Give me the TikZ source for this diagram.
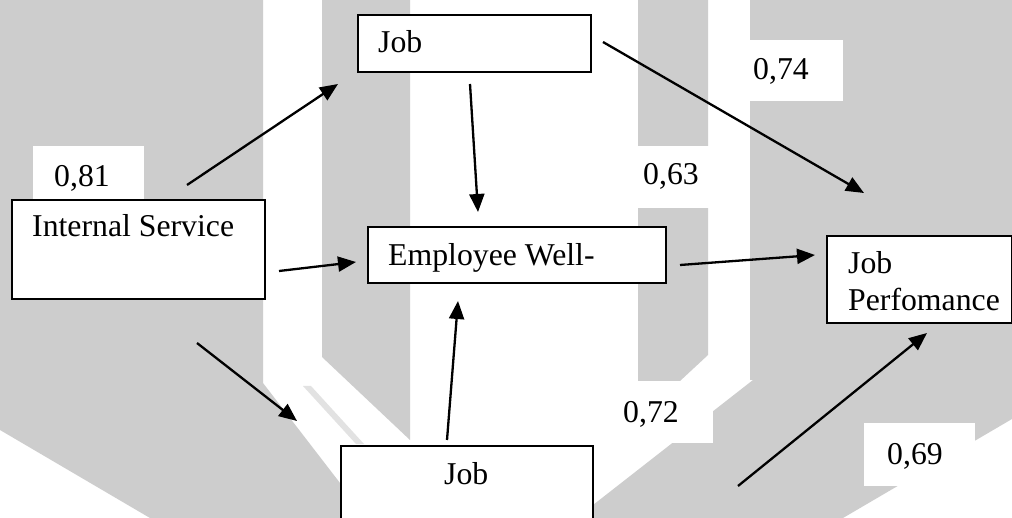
\documentclass[tikz,border=0pt]{standalone}
\usepackage{fontspec}
\setmainfont{Liberation Serif}
\usetikzlibrary{arrows.meta}
\definecolor{wm}{RGB}{205,205,205}
\definecolor{wmlight}{RGB}{226,226,226}
\begin{document}
\begin{tikzpicture}[x=1pt,y=-1pt,
  box/.style={draw=black, line width=1.8pt, fill=white, inner sep=0pt, anchor=north west},
  txt/.style={inner sep=0pt, anchor=base west, font=\fontsize{31.75}{37}\selectfont},
  arr/.style={line width=2.3pt, -{Triangle[length=18pt 0,width=15pt 0]}},
]
\clip (0,0) rectangle (1012,518);
\fill[white] (0,0) rectangle (1012,518);
% watermark shapes
\fill[wm] (0,0) -- (263,0) -- (263,383) -- (340,483) -- (340,518) -- (150,518) -- (0,430) -- cycle;
\fill[wm] (322,0) -- (410,0) -- (410,440) -- (322,357) -- cycle;
\fill[wmlight] (303,386) -- (311,386) -- (364,444) -- (356,444) -- cycle;
\fill[wm] (638,0) -- (708,0) -- (708,355) -- (680,381) -- (638,381) -- cycle;
\fill[wm] (750,0) -- (1012,0) -- (1012,419) -- (843,518) -- (593,518) -- (593,505) -- (753,380) -- (750,380) -- cycle;
% white label backgrounds
\fill[white] (33,146) rectangle (144,199);
\fill[white] (749,40) rectangle (843,101);
\fill[white] (636,146) rectangle (716,208);
\fill[white] (615,382) rectangle (713,443);
\fill[white] (864,423) rectangle (975,486);
% boxes
\node[box, minimum width=253pt, minimum height=99pt] (is) at (11,199) {};
\node[box, minimum width=233pt, minimum height=57pt] (jobtop) at (357,14) {};
\node[box, minimum width=298pt, minimum height=56pt] (ewb) at (367,226) {};
\node[box, minimum width=185pt, minimum height=87pt] (jp) at (826,235) {};
\node[box, minimum width=252pt, minimum height=100pt] (jobbot) at (340,445) {};
% texts
\node[txt] (tjobtop) at (378,53) {Job};
\node[txt] (tis) at (32,237) {Internal Service};
\node[txt] (tewb) at (388,266) {Employee Well-};
\node[txt] (tjpa) at (848,274) {Job};
\node[txt] (tjpb) at (848,311) {Perfomance};
\node[txt] (tjobbot) at (444,484) {Job};
\node[txt] (l81) at (54,187) {0,81};
\node[txt] (l74) at (753,80) {0,74};
\node[txt] (l63) at (643,185) {0,63};
\node[txt] (l72) at (623,422) {0,72};
\node[txt] (l69) at (887,464) {0,69};
% arrow end points
\coordinate (a1s) at (187,185); \coordinate (a1e) at (338,84);
\coordinate (a2s) at (470,84);  \coordinate (a2e) at (478,212);
\coordinate (a3s) at (603,42);  \coordinate (a3e) at (864,193);
\coordinate (a4s) at (279,271); \coordinate (a4e) at (356,262);
\coordinate (a5s) at (680,265); \coordinate (a5e) at (815,255);
\coordinate (a6s) at (197,343); \coordinate (a6e) at (297,421);
\coordinate (a7s) at (447,440); \coordinate (a7e) at (458,301);
\coordinate (a8s) at (738,486); \coordinate (a8e) at (927,333);
\draw[arr] (a1s) -- (a1e);
\draw[arr] (a2s) -- (a2e);
\draw[arr] (a3s) -- (a3e);
\draw[arr] (a4s) -- (a4e);
\draw[arr] (a5s) -- (a5e);
\draw[arr] (a6s) -- (a6e);
\draw[arr] (a7s) -- (a7e);
\draw[arr] (a8s) -- (a8e);
\end{tikzpicture}
\end{document}
